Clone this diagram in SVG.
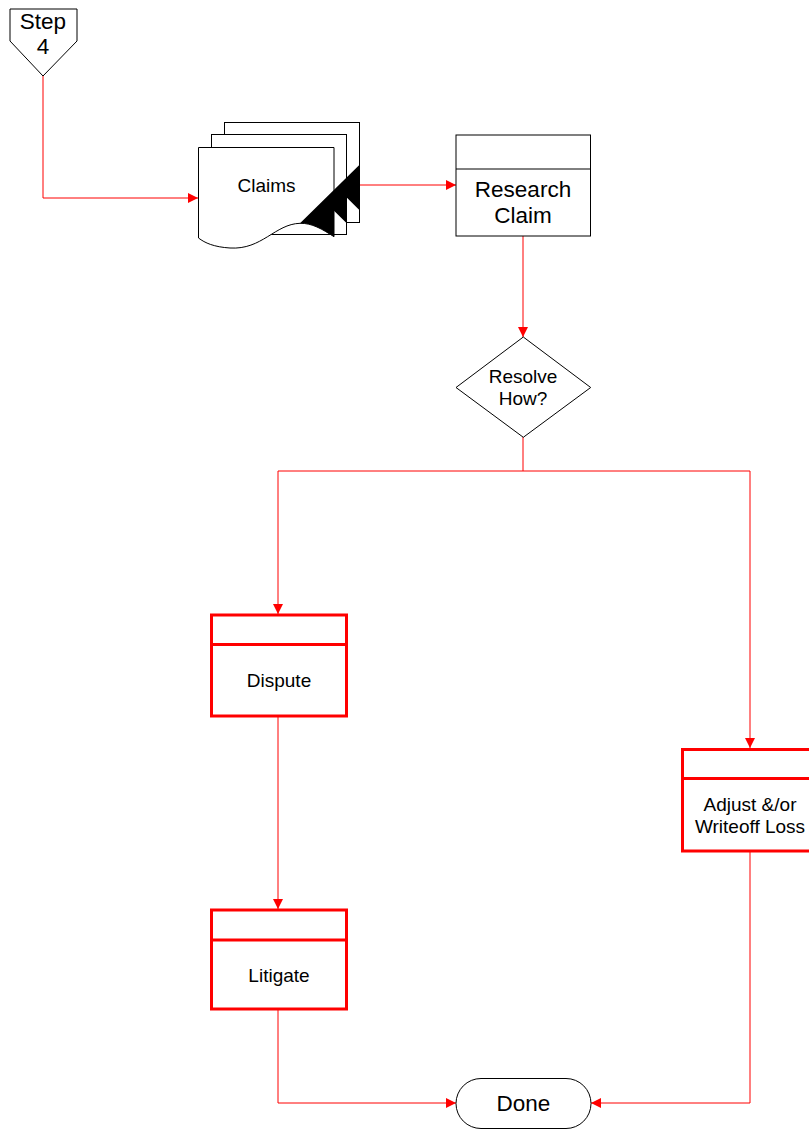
<svg xmlns="http://www.w3.org/2000/svg" width="809" height="1129" viewBox="0 0 809 1129">
  <defs>
    <marker id="arrow" viewBox="0 0 10 10" refX="10" refY="5" markerWidth="10" markerHeight="10" markerUnits="userSpaceOnUse" orient="auto">
      <path d="M0,0 L10,5 L0,10 Z" fill="#ff0000"/>
    </marker>
    <style>
      .shape { fill: #ffffff; stroke: #000000; stroke-width: 1; }
      .task { fill: #ffffff; stroke: #ff0000; stroke-width: 3; }
      .task-line { stroke: #ff0000; stroke-width: 3; }
      .line { stroke: #000000; stroke-width: 1; }
      .conn { fill: none; stroke: #ff0000; stroke-width: 1; marker-end: url(#arrow); }
      .conn-plain { fill: none; stroke: #ff0000; stroke-width: 1; }
      text { font-family: "Liberation Sans", Arial, sans-serif; fill: #000000; text-anchor: middle; dominant-baseline: central; }
      .t15 { font-size: 19px; }
      .t20 { font-size: 22.5px; }
    </style>
  </defs>
  <rect width="809" height="1129" fill="#ffffff"/>

  <!-- connectors -->
  <g id="connectors">
    <path class="conn" d="M43,76 V198 H198"/>
    <path class="conn" d="M346,185 H456"/>
    <path class="conn" d="M523,236 V337"/>
    <path class="conn-plain" d="M523,437 V471"/>
    <path class="conn-plain" d="M278,471 H750"/>
    <path class="conn" d="M278,471 V614"/>
    <path class="conn" d="M750,471 V748"/>
    <path class="conn" d="M278,716 V909"/>
    <path class="conn" d="M278,1009 V1103 H456"/>
    <path class="conn" d="M750,851 V1103 H591"/>
  </g>

  <!-- off-page reference -->
  <g id="step4">
    <polygon class="shape" points="10,9 77,9 77,41 43,76 10,41"/>
    <text class="t20" x="43" y="21">Step</text>
    <text class="t20" x="43" y="46">4</text>
  </g>

  <!-- stacked documents -->
  <g id="claims">
    <rect class="shape" x="224.5" y="122.5" width="135" height="100"/>
    <rect class="shape" x="211.5" y="134.5" width="135" height="100"/>
    <path class="shape" d="M198.5,147.5 H334 V236.7 C322,229 312,223 300,223.3 C275,224 262,250 230,248 C214,247 205,243 198.5,238 Z"/>
    <path d="M300,223.3 L359.3,165 V210 L346.7,197.5 V223.3 L334,210.7 V236.7 C322,229 312,223 300,223.3 Z" fill="#000000"/>
    <text class="t15" x="266.5" y="185">Claims</text>
  </g>

  <g id="research-claim">
    <rect class="shape" x="456" y="135" width="134.5" height="101"/>
    <line class="line" x1="456" y1="169" x2="590.5" y2="169"/>
    <text class="t20" x="523" y="189">Research</text>
    <text class="t20" x="523" y="215">Claim</text>
  </g>

  <g id="resolve-how">
    <polygon class="shape" points="523.3,337 590.7,387.5 523.3,437.3 456,387.5"/>
    <text class="t15" x="523" y="376">Resolve</text>
    <text class="t15" x="523" y="398">How?</text>
  </g>

  <g id="dispute">
    <rect class="task" x="211.5" y="615" width="135" height="101"/>
    <line class="task-line" x1="211.5" y1="644.5" x2="346.5" y2="644.5"/>
    <text class="t15" x="279" y="680">Dispute</text>
  </g>

  <g id="litigate">
    <rect class="task" x="211.5" y="910" width="135" height="99"/>
    <line class="task-line" x1="211.5" y1="940" x2="346.5" y2="940"/>
    <text class="t15" x="279" y="975">Litigate</text>
  </g>

  <g id="adjust-writeoff">
    <rect class="task" x="682.5" y="749.5" width="135" height="101.5"/>
    <line class="task-line" x1="682.5" y1="778.5" x2="817.5" y2="778.5"/>
    <text class="t15" x="750" y="804">Adjust &amp;/or</text>
    <text class="t15" x="750" y="826">Writeoff Loss</text>
  </g>

  <g id="done">
    <rect class="shape" x="456" y="1078.5" width="135" height="50" rx="25" ry="25"/>
    <text class="t20" x="523.5" y="1103">Done</text>
  </g>
</svg>
